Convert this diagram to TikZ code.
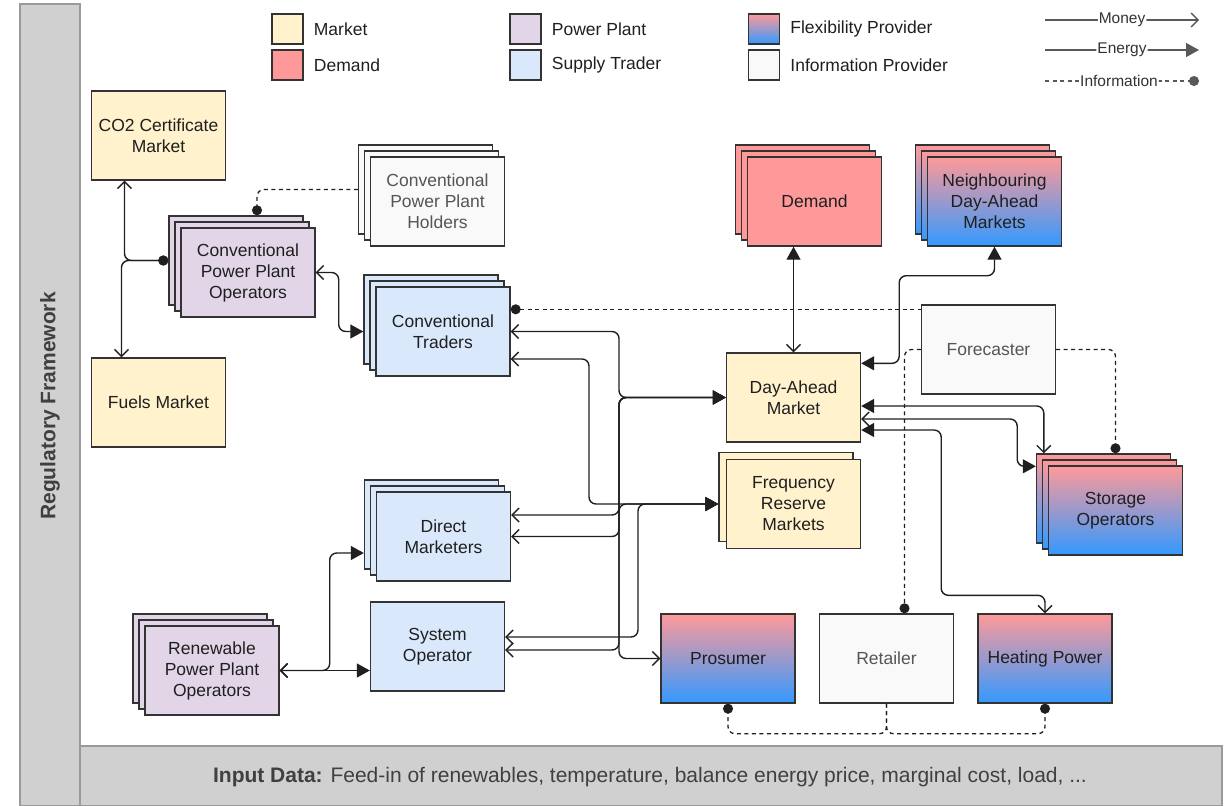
\documentclass[tikz,border=0pt]{standalone}
\usepackage{fontspec}
\setmainfont{Liberation Sans}
\usepackage{xcolor}
\usetikzlibrary{arrows.meta}
\usetikzlibrary{positioning}

\definecolor{marketfill}{HTML}{FFF2CC}
\definecolor{demandfill}{HTML}{FF9999}
\definecolor{plantfill}{HTML}{E1D5E7}
\definecolor{traderfill}{HTML}{DAE8FC}
\definecolor{flexblue}{HTML}{3399FF}
\definecolor{infofill}{HTML}{F9F9F9}
\definecolor{framefill}{HTML}{D0D0D0}
\definecolor{frameline}{HTML}{9A9A9A}
\definecolor{boxline}{HTML}{333333}
\definecolor{infotext}{HTML}{555555}

\begin{document}
\begin{tikzpicture}[
  x=1pt, y=-1pt,
  every node/.style={font=\fontsize{17.5}{21}\selectfont, text=black!88, align=center},
  box/.style={rectangle, draw=boxline, line width=1.4pt, minimum width=134pt, minimum height=89pt, inner sep=0pt},
  market/.style={box, fill=marketfill},
  demand/.style={box, fill=demandfill},
  plant/.style={box, fill=plantfill},
  trader/.style={box, fill=traderfill},
  flex/.style={box, top color=demandfill, bottom color=flexblue},
  infoprov/.style={box, fill=infofill, text=infotext},
  swatch/.style={rectangle, draw=boxline, line width=1.4pt, minimum width=31pt, minimum height=30pt, inner sep=0pt},
  legtext/.style={anchor=west, inner sep=0pt},
  leglabel/.style={fill=white, inner sep=1pt, text=black!80, font=\fontsize{15.5}{17}\selectfont},
  frame/.style={fill=framefill, draw=frameline, line width=1.4pt},
  flow/.style={line width=1.4pt, draw=black!88, rounded corners=7pt},
  info/.style={line width=1.3pt, draw=black!88, dash pattern=on 4pt off 3.5pt, rounded corners=7pt},
  Money/.tip={Straight Barb[length=7pt,width=14pt]},
  Energy/.tip={Triangle[length=13pt,width=14pt]},
  Info/.tip={Circle[length=10pt]}
]
\useasboundingbox (0,0) rectangle (1224,806);

% frame
\draw[frame] (20,4) rectangle (80,806);
\draw[frame] (80,746) rectangle (1222,806);
\node[rotate=90, text=black!75, font=\bfseries\fontsize{21}{24}\selectfont] (regtext) at (50,406) {Regulatory Framework};
\node[text=black!75, font=\fontsize{21}{24}\selectfont] (inputtext) at (650,777) {\textbf{Input Data:} Feed-in of renewables, temperature, balance energy price, marginal cost, load, ...};

% legend
\node[swatch, fill=marketfill] (lgmarket) at (287.5,29) {};
\node[legtext, right=10pt of lgmarket] (lgmarkettext) {Market};
\node[swatch, fill=demandfill] (lgdemand) at (287.5,65) {};
\node[legtext, right=10pt of lgdemand] (lgdemandtext) {Demand};
\node[swatch, fill=plantfill] (lgplant) at (525.5,29) {};
\node[legtext, right=10pt of lgplant] (lgplanttext) {Power Plant};
\node[swatch, fill=traderfill] (lgtrader) at (525.5,65) {};
\node[legtext, right=10pt of lgtrader] (lgtradertext) {Supply Trader};
\node[swatch, top color=demandfill, bottom color=flexblue] (lgflex) at (764,29) {};
\node[legtext, right=10pt of lgflex] (lgflextext) {Flexibility Provider};
\node[swatch, fill=infofill] (lginfo) at (764,65) {};
\node[legtext, right=10pt of lginfo] (lginfotext) {Information Provider};

\coordinate (lgmoneya) at (1045,20);
\coordinate (lgmoneyb) at (1199,20);
\coordinate (lgenergya) at (1045,50);
\coordinate (lgenergyb) at (1199,50);
\coordinate (lginfoa) at (1045,81);
\coordinate (lginfob) at (1199,81);
\draw[flow, draw=black!65, -Money] (lgmoneya) -- node[leglabel] (lgmoney) {Money} (lgmoneyb);
\draw[flow, draw=black!65, -Energy] (lgenergya) -- node[leglabel] (lgenergy) {Energy} (lgenergyb);
\draw[info, draw=black!65, -Info] (lginfoa) -- node[leglabel, xshift=-3pt] (lginformation) {Information} (lginfob);

% markets and actors
\node[market] (co2) at (158.5,135.5) {CO2 Certificate\\Market};
\node[market] (fuels) at (158.5,402.5) {Fuels Market};

\foreach \o in {12,6}
  \node[plant] (cppo-\o) at (248-\o,272.5-\o) {};
\node[plant] (cppo) at (248,272.5) {Conventional\\Power Plant\\Operators};

\foreach \o in {12,6}
  \node[infoprov] (cpph-\o) at (437.5-\o,201.5-\o) {};
\node[infoprov] (cpph) at (437.5,201.5) {Conventional\\Power Plant\\Holders};

\foreach \o in {12,6}
  \node[trader] (ct-\o) at (443-\o,331.5-\o) {};
\node[trader] (ct) at (443,331.5) {Conventional\\Traders};

\foreach \o in {12,6}
  \node[trader] (dm-\o) at (443.5-\o,536.5-\o) {};
\node[trader] (dm) at (443.5,536.5) {Direct\\Marketers};

\node[trader] (so) at (437.5,646.5) {System\\Operator};

\foreach \o in {12,6}
  \node[plant] (rppo-\o) at (212-\o,670.5-\o) {};
\node[plant] (rppo) at (212,670.5) {Renewable\\Power Plant\\Operators};

\foreach \o in {12,6}
  \node[demand] (demand-\o) at (814.5-\o,201.5-\o) {};
\node[demand] (demand) at (814.5,201.5) {Demand};

\foreach \o in {12,6}
  \node[flex] (neighbour-\o) at (994.5-\o,201.5-\o) {};
\node[flex] (neighbour) at (994.5,201.5) {Neighbouring\\Day-Ahead\\Markets};

\node[infoprov] (forecaster) at (988.5,349.5) {Forecaster};
\node[market] (da) at (793.5,397.5) {Day-Ahead\\Market};

\node[market] (frm-b) at (786,497) {};
\node[market] (frm) at (793.5,504) {Frequency\\Reserve\\Markets};

\foreach \o in {12,6}
  \node[flex] (storage-\o) at (1115.5-\o,510.5-\o) {};
\node[flex] (storage) at (1115.5,510.5) {Storage\\Operators};

\node[flex] (prosumer) at (728,658.5) {Prosumer};
\node[infoprov] (retailer) at (886.5,658.5) {Retailer};
\node[flex] (heating) at (1045,658.5) {Heating Power};

% connectors
\coordinate (busda) at (619,0);
\coordinate (bustr) at (589,0);
\coordinate (busso) at (638,0);
\coordinate (ctinfo) at ([yshift=-23pt]ct.north east);

\draw[flow, Info-Money] (cppo-12.west) -| ([xshift=-34pt]co2.south);
\draw[flow, Info-Money] (cppo-12.west) -| ([xshift=-37pt]fuels.north);
\draw[info, -Info] (cpph-12.west) -| ([xshift=21pt]cppo-12.north);
\draw[flow, Money-Energy] (cppo.east) -- ++(23,0) |- (ct.west -| ct-12.west);
\draw[info, Info-] (ctinfo) -- (ctinfo -| forecaster.west);

\draw[flow, Money-Energy] (ct.east) -| (busda |- da.west) -- (da.west);
\draw[flow, Money-Energy] ([yshift=-27.5pt]ct.east) -| (bustr |- frm.west) -- (frm.west -| frm-b.west);
\draw[flow, Money-Energy] ([yshift=21.5pt]dm.east) -| (busda |- frm.west) -- (frm.west -| frm-b.west);
\draw[flow, Money-Energy] (dm.east) -| (busda |- da.west) -- (da.west);
\draw[flow, Money-Energy] ([yshift=9.5pt]so.east) -| (busso |- frm.west) -- (frm.west -| frm-b.west);
\draw[flow, Money-Energy] ([yshift=-3.5pt]so.east) -| (busda |- da.west) -- (da.west);
\draw[flow, Energy-Money] (da.west) -| (busda |- prosumer.west) -- (prosumer.west);

\draw[flow, Money-Energy] (da.north) -- (da.north |- demand.south);
\draw[flow, Energy-Energy] ([yshift=-11pt]da.north east) -- ++(38,0) |- ([yshift=-29pt]neighbour.south) -- (neighbour.south);
\draw[flow, Energy-Money] ([yshift=-8.5pt]da.east) -| ([xshift=8pt]storage-12.north west);
\draw[flow, Money-Energy] ([yshift=-21.5pt]da.east) -- ++(156,0) |- ([yshift=-13pt]storage-12.north west);
\draw[flow, Energy-Money] ([yshift=-32.5pt]da.east) -- ++(80,0) |- ([yshift=18pt]heating.north) -- (heating.north);

\draw[info, -Info] (forecaster.west) -| ([xshift=18pt]retailer.north);
\draw[info, -Info] (forecaster.east) -| (storage.north |- storage-12.north);
\draw[info, -Info] (retailer.south) |- ([yshift=-30pt]prosumer.south) -- (prosumer.south);
\draw[info, -Info] (retailer.south) |- ([yshift=-30pt]heating.south) -- (heating.south);

\draw[flow, Money-Energy] (rppo.east) -- (so.west |- rppo.east);
\draw[flow, Money-Energy] (rppo.east) -- ++(50,0) |- ([yshift=-28.5pt]dm-12.west);
\end{tikzpicture}
\end{document}
